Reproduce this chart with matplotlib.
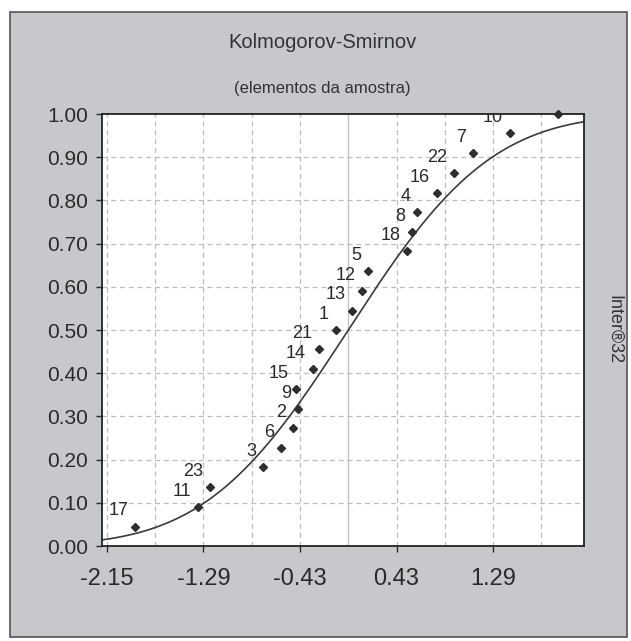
import math
import numpy as np
import matplotlib
matplotlib.use("Agg")
import matplotlib.pyplot as plt
from matplotlib.patches import Rectangle

plt.rcParams['font.family'] = ['Liberation Sans', 'DejaVu Sans']

# sample elements: label, standardized value, empirical cumulative frequency
labels = ['17', '11', '23', '3', '6', '2', '9', '15', '14', '21', '1',
          '13', '12', '5', '18', '8', '4', '16', '22', '7', '10', '20']
x_vals = [-1.900, -1.339, -1.232, -0.759, -0.595, -0.492, -0.445, -0.470,
          -0.314, -0.260, -0.109, 0.034, 0.123, 0.176, 0.524, 0.568,
          0.613, 0.791, 0.943, 1.112, 1.442, 1.870]
f_vals = [0.045, 0.091, 0.136, 0.182, 0.227, 0.273, 0.318, 0.364, 0.409,
          0.455, 0.500, 0.545, 0.591, 0.636, 0.682, 0.727, 0.773, 0.818,
          0.864, 0.909, 0.955, 1.000]

# theoretical normal curve (standardized)
mu, sigma = 0.0, 1.0

xticks = [-2.15, -1.29, -0.43, 0.43, 1.29]
xtick_labels = ['-2.15', '-1.29', '-0.43', '0.43', '1.29']
xgrid = [-2.15, -1.72, -1.29, -0.86, -0.43, 0.43, 0.86, 1.29, 1.72]
yticks = [0.0, 0.1, 0.2, 0.3, 0.4, 0.5, 0.6, 0.7, 0.8, 0.9, 1.0]

W, H = 631, 641
fig = plt.figure(figsize=(W / 100, H / 100), dpi=100)
fig.patch.set_facecolor('white')

# grey panel behind the chart
panel = Rectangle((10 / W, 1 - 637 / H), 617 / W, 625 / H,
                  transform=fig.transFigure, facecolor='#c7c8cc',
                  edgecolor='#555555', linewidth=1.2, zorder=-10)
fig.add_artist(panel)

ax = fig.add_axes([102 / W, 1 - 546 / H, 482 / W, 432 / H])
ax.set_zorder(1)
ax.set_facecolor('white')

xmin, xmax = -2.194, 2.10
ax.set_xlim(xmin, xmax)
ax.set_ylim(0, 1)

# grid
for gx in xgrid:
    ax.axvline(gx, color='#bdbdbd', lw=0.9, ls=(0, (4, 3)), zorder=1)
ax.axvline(0, color='#c2c2c2', lw=1.0, zorder=1)
for gy in yticks[1:-1]:
    ax.axhline(gy, color='#bdbdbd', lw=0.9, ls=(0, (4, 3)), zorder=1)

# normal CDF
xs = np.linspace(xmin, xmax, 300)
cdf = np.array([0.5 * (1 + math.erf((v - mu) / (sigma * math.sqrt(2)))) for v in xs])
ax.plot(xs, cdf, color='#3a3a3a', lw=1.2, zorder=2)

# sample points
ax.plot(x_vals, f_vals, ls='none', marker='D', ms=4.2, color='#2e2e2e',
        zorder=3, clip_on=False)
for lab, xv, fv in zip(labels, x_vals, f_vals):
    ax.annotate(lab, (xv, fv), xytext=(-5, 8), textcoords='offset points',
                ha='right', va='baseline', fontsize=13, color='#2a2a2a',
                clip_on=True, zorder=4)

ax.set_xticks(xticks)
ax.set_xticklabels(xtick_labels)
ax.set_yticks(yticks)
ax.set_yticklabels(['%.2f' % v for v in yticks])
ax.tick_params(axis='x', direction='out', length=4, width=1, pad=12,
               labelsize=17, colors='#2a2a2a')
ax.tick_params(axis='y', direction='out', length=4, width=1, pad=6,
               labelsize=15, colors='#2a2a2a')
for sp in ax.spines.values():
    sp.set_color('#222222')
    sp.set_linewidth(1.3)

fig.text(322 / W, 1 - 42 / H, 'Kolmogorov-Smirnov', ha='center', va='center',
         fontsize=14.5, color='#333333')
fig.text(322 / W, 1 - 88 / H, '(elementos da amostra)', ha='center',
         va='center', fontsize=12, color='#333333')
fig.text(614 / W, 1 - 330 / H, 'Inter®32', ha='center', va='center',
         rotation=-90, fontsize=13, color='#333333')

fig.savefig('out.png', dpi=100)
